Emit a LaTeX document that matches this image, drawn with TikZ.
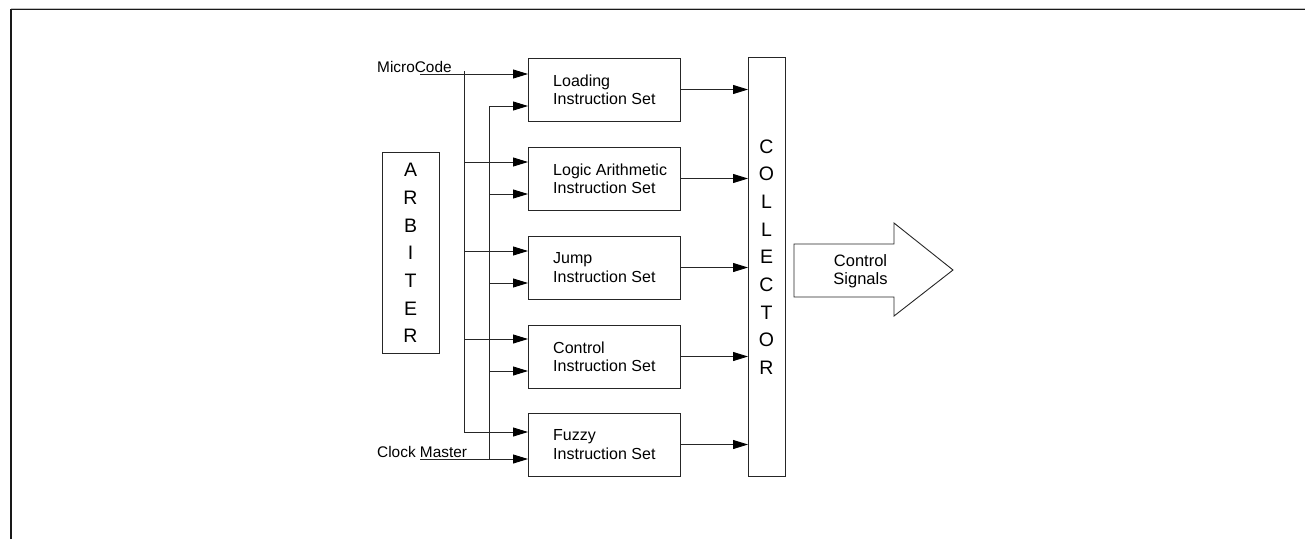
\documentclass[tikz,border=0pt]{standalone}
\usepackage{fontspec}
\setmainfont{Liberation Sans}
\usetikzlibrary{arrows.meta}
\begin{document}
\begin{tikzpicture}[x=1pt,y=-1pt,
  wire/.style={draw=black!85,line width=0.9pt},
  sig/.style={wire,-{Triangle[length=15pt,width=9pt,color=black]}},
  unit/.style={draw=black!85,line width=0.9pt,rectangle,minimum width=152pt,minimum height=63pt,anchor=north west,inner sep=0pt,outer sep=0pt},
  lbl/.style={font=\fontsize{16}{18.4}\selectfont,align=left,anchor=west,inner sep=0pt},
  tall/.style={font=\fontsize{19.5}{27.7}\selectfont,align=center,inner sep=0pt},
  side/.style={font=\fontsize{15.4}{18}\selectfont,anchor=base west,inner sep=0pt}]
\useasboundingbox (0,0) rectangle (1305,539);

% page frame
\draw[black!25,line width=0.8pt] (11,8) -- (1305,8);
\draw[black!90,line width=1.6pt] (11,539) -- (11,9.5) -- (1305,9.5);

% arbiter and collector
\node[draw=black!85,line width=0.9pt,minimum width=57pt,minimum height=201pt,anchor=north west,inner sep=0pt] (arb) at (382,152) {};
\node[tall] (arbt) at (410.5,253) {A\\R\\B\\I\\T\\E\\R};
\node[draw=black!85,line width=0.9pt,minimum width=37pt,minimum height=419pt,anchor=north west,inner sep=0pt,outer sep=0pt] (coll) at (748,57) {};
\node[tall] (collt) at (766.5,257) {C\\O\\L\\L\\E\\C\\T\\O\\R};

% instruction set units
\node[unit] (load)  at (528,58)  {};
\node[unit] (logic) at (528,147) {};
\node[unit] (jump)  at (528,236) {};
\node[unit] (ctrl)  at (528,325) {};
\node[unit] (fuzzy) at (528,413) {};
\node[lbl] (loadt)  at (553,89.5)  {Loading\\Instruction Set};
\node[lbl] (logict) at (553,178.5) {Logic Arithmetic\\Instruction Set};
\node[lbl] (jumpt)  at (553,267.5) {Jump\\Instruction Set};
\node[lbl] (ctrlt)  at (553,356.5) {Control\\Instruction Set};
\node[lbl] (fuzzyt) at (553,444.5) {Fuzzy\\Instruction Set};

% input labels
\node[side] (mc) at (377,72) {MicroCode};
\node[side] (ck) at (377,457) {Clock Master};

% taps on the two input buses
\coordinate (load-a)  at (420,74);   \coordinate (load-b)  at (489,106);
\coordinate (logic-a) at (464,162);  \coordinate (logic-b) at (489,194);
\coordinate (jump-a)  at (464,251);  \coordinate (jump-b)  at (489,283);
\coordinate (ctrl-a)  at (464,339);  \coordinate (ctrl-b)  at (489,371);
\coordinate (fuzzy-a) at (464,432);  \coordinate (fuzzy-b) at (420,459);
\coordinate (bus1top) at (464,71);
\coordinate (bus2bot) at (489,460);

% buses
\draw[wire] (bus1top) -- (fuzzy-a);
\draw[wire] (load-b) -- (bus2bot);

% inputs into units and outputs into the collector
\foreach \n in {load,logic,jump,ctrl,fuzzy}{
  \draw[sig] (\n-a) -- (\n-a -| \n.west);
  \draw[sig] (\n-b) -- (\n-b -| \n.west);
  \draw[sig] (\n.east) -- (\n.east -| coll.west);
}

% output arrow
\draw[draw=black!85,line width=0.9pt] (794,244) -- (894,244) -- (894,223) -- (953,270) -- (894,316) -- (894,297) -- (794,297) -- cycle;
\node[font=\fontsize{16.5}{18.5}\selectfont,align=center,inner sep=0pt] (outt) at (860.5,271) {Control\\Signals};
\end{tikzpicture}
\end{document}
